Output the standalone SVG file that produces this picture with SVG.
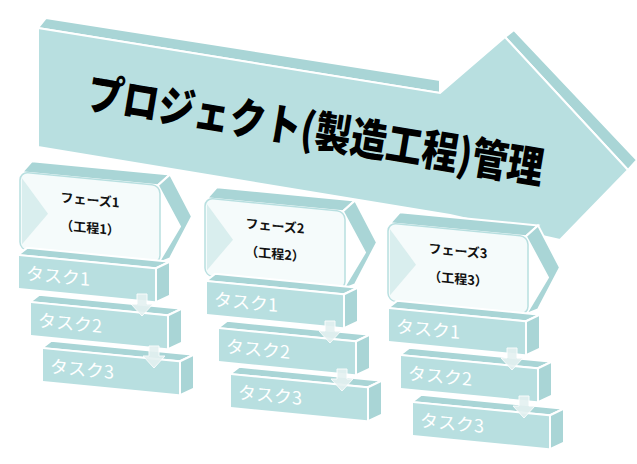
<svg xmlns="http://www.w3.org/2000/svg" width="637" height="464" viewBox="0 0 637 464">
<style>
.f{fill:#b8dfe0;stroke:#fff;stroke-width:2}
.t{fill:#a9d5d6;stroke:#fff;stroke-width:2}
.pf{fill:#f5fbfb;stroke:#b8dfe0;stroke-width:1.5}
.tt{font-family:"Noto Sans CJK JP","Liberation Sans",sans-serif;fill:#fff;font-size:18px}
.pt{font-family:"Noto Sans CJK JP","Liberation Sans",sans-serif;fill:#111;font-size:13px;font-weight:bold;text-anchor:middle}
.da{fill:#e4f1f1;stroke:#fff;stroke-width:1;opacity:0.9}
</style>
<defs>
<g id="task">
<polygon class="t" points="0,0 9,-8 152,-8 138,0"/>
<polygon class="t" points="138,0 152,-8 152,26 138,34"/>
<rect class="f" x="0" y="0" width="138" height="34"/>
</g>
<g id="phase">
<polygon class="t" points="2,0 12,-12 150,-12 138,0"/>
<polygon class="t" points="138,0 150,-12 172,28 150,72 138,78 160,39"/>
<rect class="pf" x="0" y="0" width="140" height="78" rx="8"/>
<polygon fill="#d9eeee" points="2,6 28,39 2,72"/>
</g>
<g id="down"><polygon class="da" points="-5,-14 5,-14 5,-4 11,-4 0,8 -11,-4 -5,-4"/></g>
</defs>
<g id="bigarrow">
<polygon class="t" points="38,28 46,18 440,80 440,93"/>
<polygon class="t" points="505,37 514,30 637,160 628,170"/>
<polygon class="f" points="38,28 440,93 505,37 628,170 560,240 450,215 38,147"/>
<text transform="translate(85,108) rotate(9.5) scale(0.95,1.15)" font-family="'Noto Sans CJK JP','Liberation Sans',sans-serif" font-weight="900" font-size="38" fill="#000">プロジェクト(製造工程)管理</text>
</g>
<g id="phase1">
<g transform="translate(20,172) skewY(5.5)"><use href="#phase"/><text class="pt" x="70" y="26">フェーズ1</text><text class="pt" x="70" y="54">（工程1）</text></g>
<g transform="translate(18,255) skewY(5.5)"><use href="#task"/><text class="tt" x="8" y="24">タスク1</text></g>
<g transform="translate(30,302) skewY(5.5)"><use href="#task"/><text class="tt" x="8" y="24">タスク2</text></g>
<g transform="translate(42,348) skewY(5.5)"><use href="#task"/><text class="tt" x="8" y="24">タスク3</text></g>
<use href="#down" transform="translate(142,308)"/>
<use href="#down" transform="translate(154,360)"/>
</g>
<g id="phase2">
<g transform="translate(205,198) skewY(5.5)"><use href="#phase"/><text class="pt" x="70" y="26">フェーズ2</text><text class="pt" x="70" y="54">（工程2）</text></g>
<g transform="translate(206,281) skewY(5.5)"><use href="#task"/><text class="tt" x="8" y="24">タスク1</text></g>
<g transform="translate(218,328) skewY(5.5)"><use href="#task"/><text class="tt" x="8" y="24">タスク2</text></g>
<g transform="translate(230,374) skewY(5.5)"><use href="#task"/><text class="tt" x="8" y="24">タスク3</text></g>
<use href="#down" transform="translate(330,335)"/>
<use href="#down" transform="translate(342,383)"/>
</g>
<g id="phase3">
<g transform="translate(388,223) skewY(5.5)"><use href="#phase"/><text class="pt" x="70" y="26">フェーズ3</text><text class="pt" x="70" y="54">（工程3）</text></g>
<g transform="translate(388,308) skewY(5.5)"><use href="#task"/><text class="tt" x="8" y="24">タスク1</text></g>
<g transform="translate(400,355) skewY(5.5)"><use href="#task"/><text class="tt" x="8" y="24">タスク2</text></g>
<g transform="translate(412,402) skewY(5.5)"><use href="#task"/><text class="tt" x="8" y="24">タスク3</text></g>
<use href="#down" transform="translate(512,362)"/>
<use href="#down" transform="translate(524,410)"/>
</g>
</svg>
